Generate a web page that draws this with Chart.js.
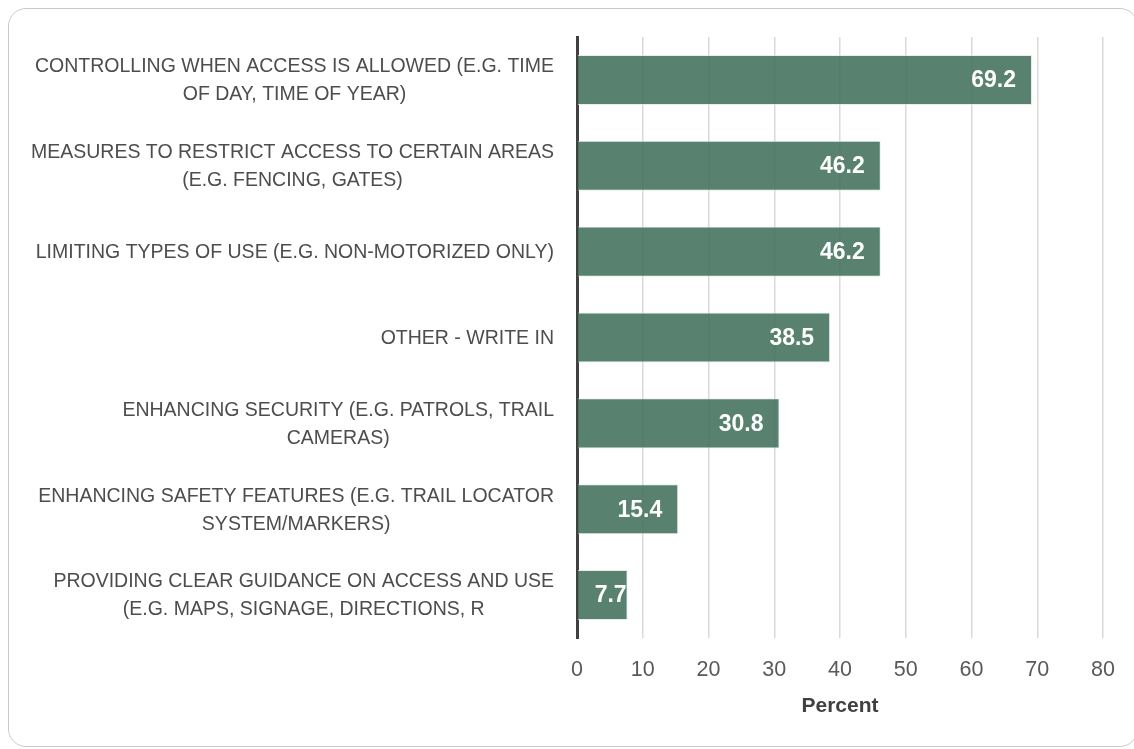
<!DOCTYPE html>
<html>
<head>
<meta charset="utf-8">
<script src="https://cdn.jsdelivr.net/npm/chart.js@4/dist/chart.umd.min.js"></script>
<style>
  html, body { margin: 0; padding: 0; background: #ffffff; overflow: hidden; }
  #wrap { position: relative; width: 1134px; height: 749px; overflow: hidden; }
  #frame {
    position: absolute; left: 8px; top: 8px; width: 1130px; height: 739px;
    box-sizing: border-box; border: 1.5px solid #c9c9c9; border-radius: 18px;
    pointer-events: none;
  }
  #chart { position: absolute; left: 0; top: 0; }
</style>
</head>
<body>
<div id="wrap">
  <canvas id="chart" width="1134" height="749"></canvas>
  <div id="frame"></div>
</div>
<script>
// Category labels (each entry is the list of lines shown beside the bar)
const categories = [
  ["CONTROLLING WHEN ACCESS IS ALLOWED (E.G. TIME", "OF DAY, TIME OF YEAR)"],
  ["MEASURES TO RESTRICT ACCESS TO CERTAIN AREAS", "(E.G. FENCING, GATES)"],
  ["LIMITING TYPES OF USE (E.G. NON-MOTORIZED ONLY)"],
  ["OTHER - WRITE IN"],
  ["ENHANCING SECURITY (E.G. PATROLS, TRAIL", "CAMERAS)"],
  ["ENHANCING SAFETY FEATURES (E.G. TRAIL LOCATOR", "SYSTEM/MARKERS)"],
  ["PROVIDING CLEAR GUIDANCE ON ACCESS AND USE", "(E.G. MAPS, SIGNAGE, DIRECTIONS, R"]
];

// Percent of respondents for each measure
const percentValues = [69.2, 46.2, 46.2, 38.5, 30.8, 15.4, 7.7];

// Value axis ticks
const percentTicks = [0, 10, 20, 30, 40, 50, 60, 70, 80];

const FONT = "'Liberation Sans', Arial, sans-serif";
const TEXT_GREY = '#595959';

// Draws the multi-line category labels: the block is right-aligned to the
// axis and every line is centred within the block.
const categoryLabelPlugin = {
  id: 'categoryLabels',
  afterDraw(chart) {
    const { ctx } = chart;
    const yScale = chart.scales.y;
    const right = chart.chartArea.left - 23;
    const lineGap = 28;
    ctx.save();
    ctx.font = '19.5px ' + FONT;
    ctx.fillStyle = '#4d4d4d';
    ctx.textAlign = 'center';
    ctx.textBaseline = 'middle';
    categories.forEach((lines, i) => {
      const yc = yScale.getPixelForTick(i);
      const blockW = Math.max(...lines.map(l => ctx.measureText(l).width));
      const xc = right - blockW / 2;
      const y0 = yc - (lines.length - 1) * lineGap / 2 + 1;
      lines.forEach((l, j) => ctx.fillText(l, xc, y0 + j * lineGap));
    });
    ctx.restore();
  }
};

// Value labels placed inside the end of each bar
const valueLabelPlugin = {
  id: 'valueLabels',
  afterDatasetsDraw(chart) {
    const { ctx } = chart;
    const meta = chart.getDatasetMeta(0);
    ctx.save();
    ctx.font = 'bold 23px ' + FONT;
    ctx.fillStyle = '#ffffff';
    ctx.textAlign = 'right';
    ctx.textBaseline = 'middle';
    meta.data.forEach((bar, i) => {
      const txt = percentValues[i].toFixed(1);
      const w = ctx.measureText(txt).width;
      const barW = bar.x - bar.base;
      const x = (barW >= w + 32) ? bar.x - 16 : bar.x - 1;
      ctx.fillText(txt, x, bar.y + 1);
    });
    ctx.restore();
  }
};

new Chart(document.getElementById('chart'), {
  type: 'bar',
  data: {
    labels: categories.map(c => c.join(' ')),
    datasets: [{
      data: percentValues,
      backgroundColor: 'rgba(70,115,95,0.9)',
      borderColor: 'rgba(220,232,226,0.7)',
      borderWidth: 1,
      barPercentage: 0.583,
      categoryPercentage: 1.0
    }]
  },
  options: {
    indexAxis: 'y',
    responsive: false,
    animation: false,
    layout: { padding: { left: 577, top: 37, right: 30, bottom: 0 } },
    plugins: {
      legend: { display: false },
      tooltip: { enabled: false }
    },
    scales: {
      x: {
        min: 0,
        max: 80,
        afterBuildTicks(scale) { scale.ticks = percentTicks.map(v => ({ value: v })); },
        afterFit(scale) { scale.height = 111; },
        grid: { color: '#d9d9d9', lineWidth: 1.5, drawTicks: false },
        border: { display: false },
        ticks: {
          color: TEXT_GREY,
          font: { family: FONT, size: 21.5 },
          padding: 19
        },
        title: {
          display: true,
          text: 'Percent',
          color: '#404040',
          font: { family: FONT, size: 21, weight: 'bold' },
          padding: { top: 0, bottom: 30 }
        }
      },
      y: {
        afterFit(scale) { scale.width = 0; },
        grid: { display: false },
        ticks: { display: false },
        border: { display: true, color: '#404040', width: 3 }
      }
    }
  },
  plugins: [categoryLabelPlugin, valueLabelPlugin]
});
</script>
</body>
</html>
